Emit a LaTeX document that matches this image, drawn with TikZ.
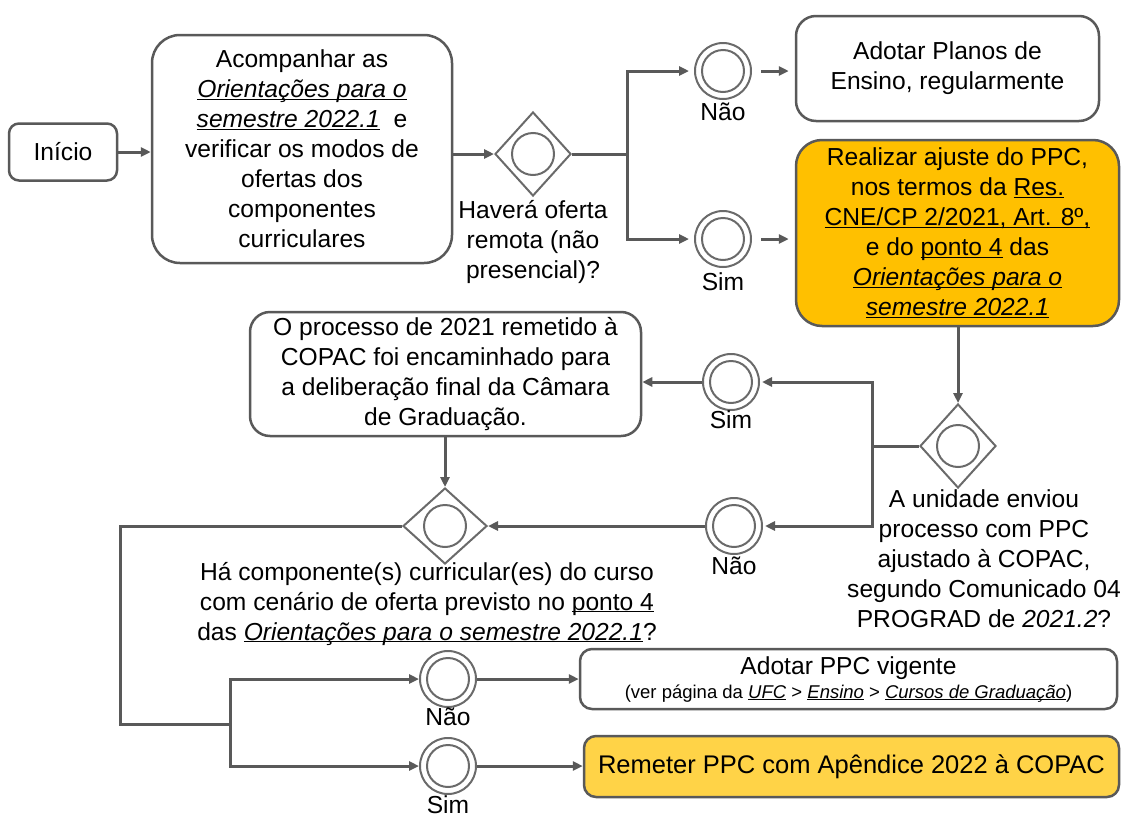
\documentclass[tikz,border=0pt]{standalone}
\usepackage{fontspec}
\setmainfont{Liberation Sans}
\usepackage{xcolor}
\usepackage{tikz}
\usetikzlibrary{arrows.meta,positioning,shapes.geometric}
\definecolor{linegray}{HTML}{595959}
\definecolor{gategray}{HTML}{6A6A6A}
\definecolor{ajuste}{HTML}{FFC000}
\definecolor{remete}{HTML}{FFD347}
\newcommand{\undl}[1]{\underline{\smash{#1}}}

\tikzset{
  box/.style={draw=linegray, line width=2.5pt, align=center, inner sep=0pt, rounded corners=#1},
  box/.default=20pt,
  note/.style={align=center, inner sep=0pt},
  gate/.style={diamond, draw=gategray, line width=2pt, minimum width=76pt, minimum height=84pt, inner sep=0pt,
    path picture={\draw[gategray, line width=2pt] (path picture bounding box.center) circle (21pt);}},
  event/.style={circle, draw=gategray, line width=2pt, minimum size=56pt, inner sep=0pt,
    path picture={\draw[gategray, line width=2pt] (path picture bounding box.center) circle (21pt);}},
  wire/.style={draw=linegray, line width=3pt},
  flow/.style={wire, -{Triangle[length=10pt,width=9pt]}},
}

\begin{document}
\begin{tikzpicture}[x=1pt, y=-1pt, every node/.style={font=\fontsize{24.6}{30}\selectfont}]
  \useasboundingbox (0,0) rectangle (1128,817);

  \path
  (63,152) node[box=10pt, minimum width=108pt, minimum height=57pt] (inicio) {Início}
  (302,149) node[box=28pt, minimum width=300pt, minimum height=228pt] (acomp)
    {Acompanhar as\\ \undl{\textit{Orientações para o}}\\ \undl{\textit{semestre 2022.1}}\ \ e\\ verificar os modos de\\ ofertas dos\\ componentes\\ curriculares}
  (533,154) node[gate] (d1) {}
  (533,242) node[note] (q1) {Haverá oferta\\ remota (não\\ presencial)?}
  (723,71) node[event] (nao1) {}
  (723,112) node[note] (nao1lbl) {Não}
  (723,239) node[event] (sim1) {}
  (723,282) node[note] (sim1lbl) {Sim}
  (947.5,68.5) node[box, minimum width=303pt, minimum height=105pt] (planos) {Adotar Planos de\\ Ensino, regularmente}
  (957.5,233) node[box=26pt, fill=ajuste, minimum width=323pt, minimum height=186pt] (ajuste)
    {Realizar ajuste do PPC,\\ nos termos da \undl{Res.}\\ \undl{CNE/CP 2/2021, Art. 8º,}\\ e do \undl{ponto 4} das\\ \undl{\textit{Orientações para o}}\\ \undl{\textit{semestre 2022.1}}}
  (958,446) node[gate] (d2) {}
  (984,559) node[note] (q2) {A unidade enviou\\ processo com PPC\\ ajustado à COPAC,\\ segundo Comunicado 04\\ PROGRAD de \textit{2021.2}?}
  (731,382) node[event] (sim2) {}
  (731,420) node[note] (sim2lbl) {Sim}
  (734,526) node[event] (nao2) {}
  (734,566) node[note] (nao2lbl) {Não}
  (445.5,374) node[box, minimum width=391pt, minimum height=124pt] (grad)
    {O processo de 2021 remetido à\\ COPAC foi encaminhado para\\ a deliberação final da Câmara\\ de Graduação.}
  (445,526) node[gate, minimum width=84pt, minimum height=76pt] (d3) {}
  (427,602) node[note] (q3) {Há componente(s) curricular(es) do curso\\ com cenário de oferta previsto no \undl{ponto 4}\\ das \undl{\textit{Orientações para o semestre 2022.1}}?}
  (448,679) node[event] (nao3) {}
  (448,717) node[note] (nao3lbl) {Não}
  (448,766) node[event] (sim3) {}
  (448,805) node[note] (sim3lbl) {Sim}
  (848.5,679) node[box=12pt, minimum width=537pt, minimum height=60pt] (adotar)
    {Adotar PPC vigente\\[-6pt] {\fontsize{18.5}{21}\selectfont (ver página da \undl{\textit{UFC}} > \undl{\textit{Ensino}} > \undl{\textit{Cursos de Graduação}})}}
  (851.5,766.5) node[box=12pt, fill=remete, minimum width=535pt, minimum height=61pt, font=\fontsize{25.5}{30}\selectfont] (remeter)
    {Remeter PPC com Apêndice 2022 à COPAC}
  ;

  \coordinate (j1) at (627,154);
  \coordinate (j2) at (872,446);
  \coordinate (j3) at (120,724);
  \coordinate (j4) at (230,724);

  \draw[flow] (inicio.east) -- (inicio.east -| acomp.west);
  \draw[flow] (d1 -| acomp.east) -- (d1.west);
  \draw[wire] (d1.east) -- (j1);
  \draw[flow, shorten >=5pt] (j1) |- (nao1);
  \draw[flow, shorten >=5pt] (j1) |- (sim1);
  \draw[flow, shorten <=9pt, shorten >=6pt] (nao1.east) -- (nao1.east -| planos.west);
  \draw[flow, shorten <=9pt, shorten >=6pt] (sim1.east) -- (sim1.east -| ajuste.west);
  \draw[flow] (d2 |- ajuste.south) -- (d2.north);
  \draw[wire] (d2.west) -- (j2);
  \draw[flow, shorten >=2pt] (j2) |- (sim2);
  \draw[flow, shorten >=2pt] (j2) |- (nao2);
  \draw[flow] (sim2.west) -- (sim2.west -| grad.east);
  \draw[flow] (nao2.west) -- (d3.east);
  \draw[flow] (d3 |- grad.south) -- (d3.north);
  \draw[wire] (d3.west) -| (j3) -- (j4);
  \draw[flow] (j4) |- (nao3);
  \draw[flow] (j4) |- (sim3);
  \draw[flow] (nao3.east) -- (nao3.east -| adotar.west);
  \draw[flow] (sim3.east) -- (sim3.east -| remeter.west);
\end{tikzpicture}
\end{document}
